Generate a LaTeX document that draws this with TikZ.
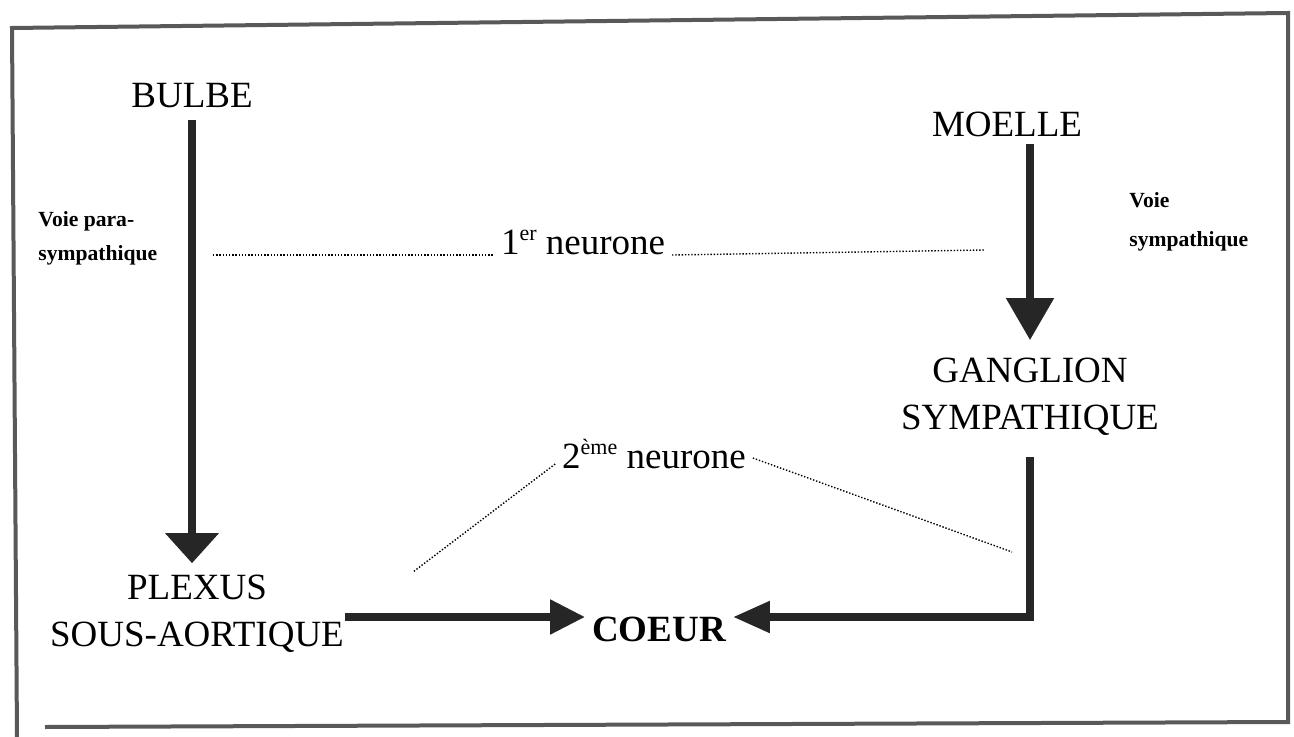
\documentclass[tikz,border=0pt]{standalone}
\usepackage{fontspec}
\setmainfont{Liberation Serif}
\usepackage{tikz}
\usetikzlibrary{arrows.meta}
\newcommand{\expo}[1]{\raisebox{7pt}{\fontsize{11}{11}\selectfont #1}}

\begin{document}
\begin{tikzpicture}[x=0.5pt, y=-0.5pt,
		lbl/.style={font=\fontsize{18.5}{23.5}\selectfont, align=center},
		voie/.style={font=\bfseries\fontsize{10.8}{17}\selectfont, align=left, inner sep=0pt},
		fleche/.style={line width=4pt, color=black!85},
		pointille/.style={line width=0.7pt, dash pattern=on 0.7pt off 0.9pt}]
		\useasboundingbox (0,0) rectangle (1294,737);
		% frame
		\draw[line width=2pt, color=black!65] (17,737) -- (12,28) -- (1288,13) -- (1288,722) -- (45,727);
		% centres and ganglion
		\node[lbl, anchor=base] (bulbe) at (192,108) {BULBE};
		\node[lbl, anchor=base] (moelle) at (1007,137) {MOELLE};
		\node[lbl] (ganglion) at (1030,397) {GANGLION\\SYMPATHIQUE};
		\node[lbl] (plexus) at (197,614) {PLEXUS\\SOUS-AORTIQUE};
		\node[lbl, anchor=base, font=\bfseries\fontsize{18.5}{22}\selectfont] (coeur) at (659,641) {COEUR};
		\coordinate (lvl) at ([yshift=12pt]coeur.base);
		% voies
		\node[voie, anchor=west] (vpara) at (38,238) {Voie para-\\sympathique};
		\node[voie, anchor=west] (vsymp) at (1129,222) {Voie\\[2.5pt]sympathique};
		% neurones
		\node[lbl, anchor=base] (neurA) at (583,255) {1\expo{er} neurone};
		\node[lbl, anchor=base] (neurB) at (654,468) {2\expo{ème} neurone};
		\coordinate (pA1) at (213,255);
		\coordinate (pA2) at (985,250);
		\coordinate (pB1) at (413,572);
		\coordinate (pB2) at (1012,552);
		\draw[pointille] (pA1) -- (neurA.base west);
		\draw[pointille] (neurA.base east) -- (pA2);
		\draw[pointille] ([yshift=2pt]neurB.base west) -- (pB1);
		\draw[pointille] ([yshift=5pt]neurB.base east) -- (pB2);
		% arrows
		\draw[fleche, -{Triangle[width=26pt, length=15pt]}, shorten <=2.5pt, shorten >=2.5pt]
			(bulbe.south) -- (bulbe.south |- plexus.north);
		\draw[fleche, -{Triangle[width=23pt, length=21pt]}, shorten >=5.5pt]
			(moelle.south -| ganglion.north) -- (ganglion.north);
		\draw[fleche, -{Triangle[width=16.5pt, length=17.5pt]}, shorten <=-3pt]
			(plexus.east |- lvl) -- (coeur.west |- lvl);
		\draw[fleche, -{Triangle[width=15pt, length=18.5pt]}, shorten <=7pt]
			(ganglion.south) |- (coeur.east |- lvl);
	\end{tikzpicture}
\end{document}
